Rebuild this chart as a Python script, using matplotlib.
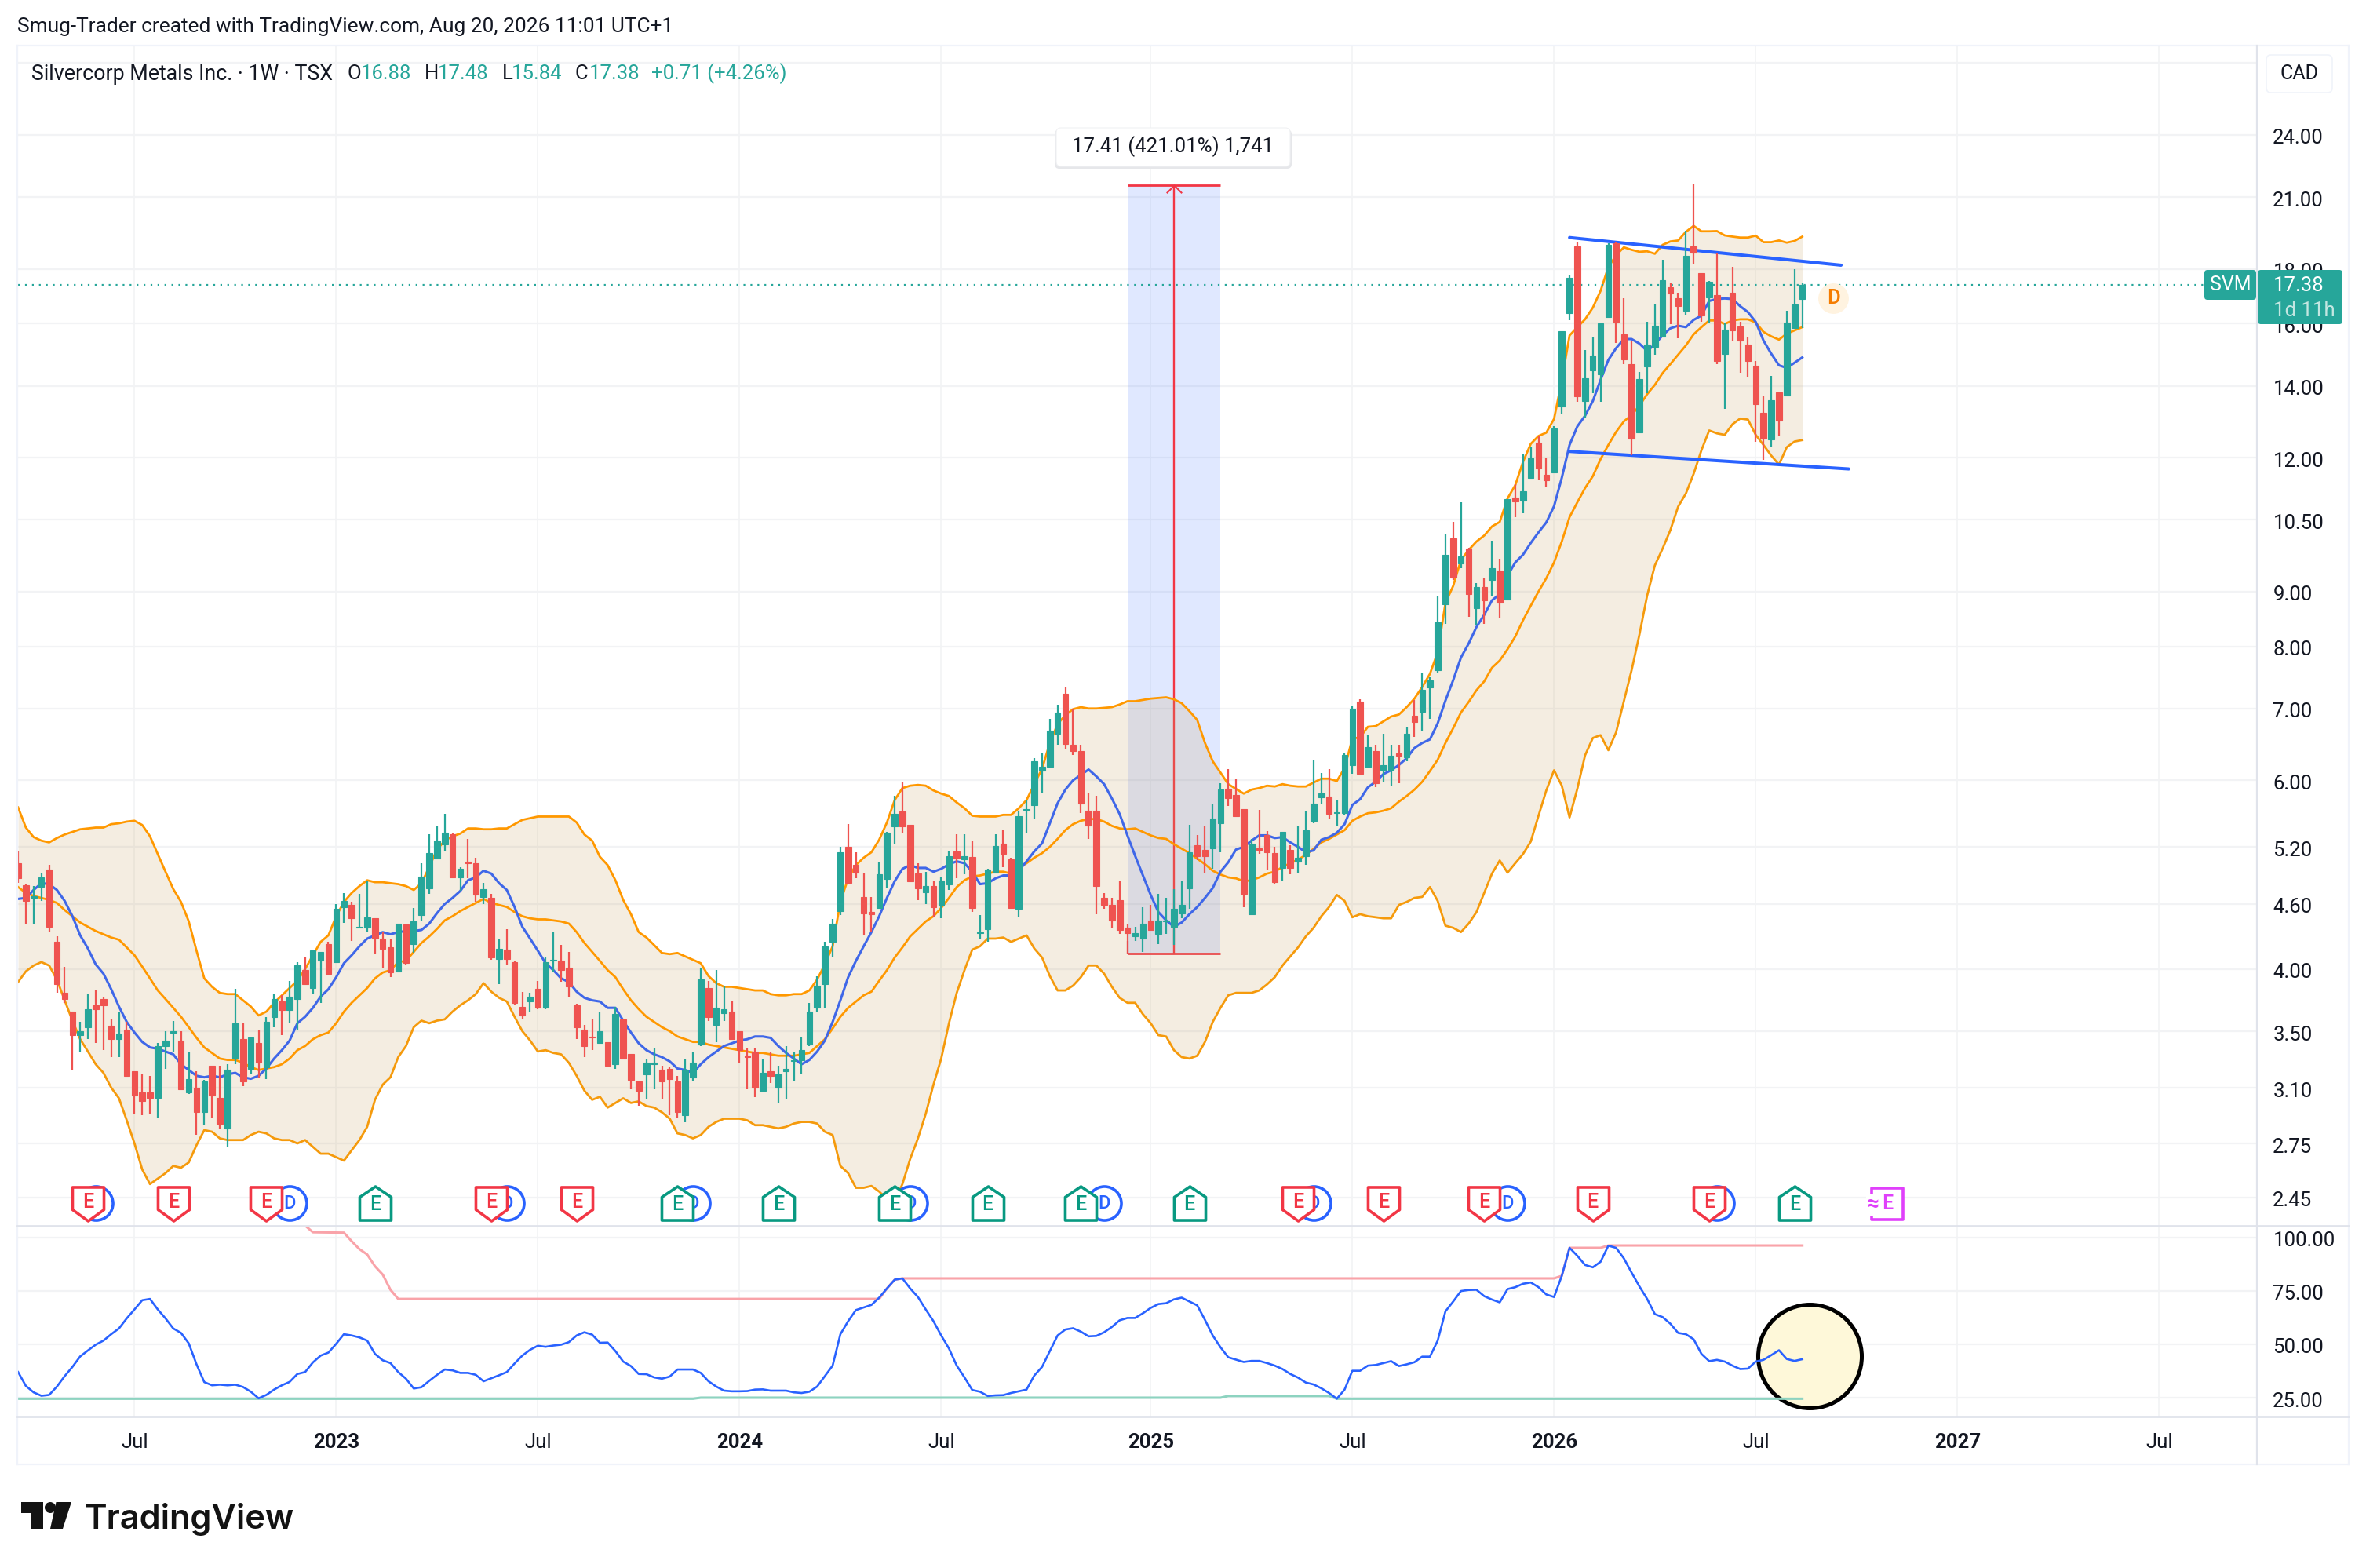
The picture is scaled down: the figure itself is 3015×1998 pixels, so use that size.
import matplotlib
matplotlib.use('Agg')
import matplotlib.pyplot as plt
import numpy as np
from matplotlib.lines import Line2D
from matplotlib.markers import MarkerStyle
from matplotlib.patches import Circle, Ellipse, FancyBboxPatch, Polygon, Rectangle
from matplotlib.path import Path
from matplotlib.transforms import Affine2D, ScaledTranslation, blended_transform_factory

plt.rcParams['font.family'] = ['Roboto', 'DejaVu Sans']

# weekly candles, one value per bar
opens = [5.02,4.79,4.66,4.77,4.95,4.24,3.80,3.65,3.47,3.53,
    3.70,3.75,3.54,3.44,3.51,3.21,3.07,3.07,3.03,3.39,
    3.49,3.43,3.07,3.10,2.94,3.25,3.03,2.84,3.30,3.44,
    3.23,3.41,3.24,3.61,3.73,3.66,3.75,3.99,3.84,4.07,
    4.22,4.06,4.57,4.59,4.37,4.37,4.46,4.27,4.19,3.98,
    4.40,4.22,4.49,4.76,5.07,5.23,5.34,4.87,5.04,5.02,
    4.67,4.66,4.09,4.17,4.06,3.69,3.73,3.83,3.68,4.07,
    4.07,4.01,3.70,3.51,3.46,3.41,3.42,3.26,3.59,3.33,
    3.14,3.19,3.26,3.22,3.23,3.14,2.92,3.17,3.40,3.84,
    3.55,3.64,3.65,3.50,3.32,3.35,3.08,3.21,3.10,3.21,
    3.28,3.29,3.40,3.68,3.87,4.24,4.53,5.20,5.00,4.67,
    4.52,4.56,4.85,5.43,5.61,5.45,4.91,4.72,4.78,4.58,
    4.80,5.15,5.06,5.09,4.32,4.36,4.92,5.24,5.06,4.55,
    5.63,5.69,6.12,6.18,6.63,7.23,6.48,6.39,5.62,5.62,
    4.66,4.59,4.64,4.37,4.29,4.27,4.44,4.31,4.43,4.38,
    4.51,4.76,5.22,5.17,5.18,5.47,5.89,5.81,5.64,4.50,
    5.18,5.33,5.13,4.97,5.17,5.04,5.10,5.50,5.78,5.79,
    5.59,5.59,6.20,7.11,6.18,6.39,6.13,6.13,6.36,6.30,
    6.89,6.95,7.32,7.60,8.76,10.09,9.56,9.87,8.68,9.09,
    9.22,9.41,8.84,11.01,10.94,11.49,12.39,11.57,11.62,13.39,
    16.36,18.88,13.55,14.47,14.35,16.23,19.02,15.63,14.66,12.67,
    14.59,15.22,15.55,17.29,16.91,16.45,18.88,17.83,16.93,17.00,
    15.00,17.09,15.89,15.31,14.61,13.22,12.48,13.81,13.71,15.84,16.88]
highs = [5.15,4.80,4.78,4.92,5.00,4.29,4.02,3.65,3.57,3.79,
    3.82,3.77,3.59,3.65,3.57,3.21,3.19,3.18,3.41,3.50,
    3.58,3.50,3.35,3.21,3.15,3.25,3.25,3.26,3.83,3.56,
    3.45,3.51,3.61,3.79,3.78,3.90,4.06,4.10,4.16,4.15,
    4.24,4.60,4.71,4.62,4.70,4.84,4.46,4.33,4.27,4.41,
    4.41,4.56,5.02,5.34,5.43,5.58,5.35,4.98,5.29,5.08,
    4.81,4.70,4.27,4.36,4.07,3.81,3.80,3.90,4.10,4.33,
    4.21,4.15,3.71,3.55,3.59,3.65,3.42,3.69,3.59,3.33,
    3.14,3.30,3.37,3.25,3.24,3.18,3.30,3.35,4.01,3.90,
    3.99,3.85,3.73,3.50,3.37,3.37,3.30,3.35,3.25,3.39,
    3.35,3.46,3.72,3.94,4.24,4.45,5.20,5.46,5.14,4.92,
    4.67,5.03,5.37,5.80,5.98,5.45,5.02,4.93,4.83,4.88,
    5.16,5.34,5.34,5.27,4.49,4.96,5.34,5.40,5.08,5.62,
    5.75,6.29,6.37,6.84,7.06,7.34,6.98,6.48,5.83,5.80,
    4.71,4.66,4.84,4.40,4.38,4.57,4.59,4.70,4.66,4.75,
    4.84,5.45,5.33,5.43,5.71,5.96,6.15,6.01,5.64,5.29,
    5.63,5.38,5.20,5.37,5.22,5.43,5.62,6.26,6.09,6.15,
    5.75,6.36,7.04,7.14,6.62,6.48,6.63,6.48,6.48,6.73,
    7.13,7.55,7.48,8.91,10.17,10.45,10.90,9.89,9.17,9.28,
    10.03,9.66,10.97,11.33,12.09,12.28,12.59,11.98,12.83,15.73,
    17.74,19.05,15.11,15.57,16.03,19.00,19.05,16.89,15.43,14.43,
    16.06,16.67,18.34,17.47,17.11,19.54,21.60,17.85,17.53,18.59,
    16.01,18.07,16.06,15.52,14.77,13.68,14.31,13.83,16.44,18.00,17.48]
lows = [4.81,4.41,4.40,4.63,4.33,3.80,3.72,3.22,3.35,3.44,
    3.41,3.36,3.31,3.31,3.18,2.93,2.92,2.93,2.90,3.23,
    3.35,3.09,3.06,2.80,2.86,2.90,2.84,2.73,3.26,3.11,
    3.19,3.17,3.16,3.53,3.47,3.56,3.51,3.87,3.79,3.72,
    3.95,4.06,4.42,4.25,4.37,4.33,4.13,4.01,3.93,3.97,
    4.04,4.14,4.43,4.70,5.07,5.16,4.87,4.73,4.86,4.62,
    4.60,4.08,3.87,4.04,3.70,3.59,3.65,3.67,3.67,3.97,
    3.89,3.77,3.44,3.31,3.36,3.41,3.25,3.23,3.30,3.09,
    2.98,3.02,3.09,3.02,2.92,2.90,2.88,3.14,3.39,3.58,
    3.42,3.58,3.44,3.27,3.09,3.04,3.07,3.13,3.00,3.02,
    3.14,3.19,3.39,3.65,3.68,4.10,4.49,4.81,4.86,4.30,
    4.33,4.56,4.76,5.23,5.35,4.82,4.64,4.60,4.48,4.46,
    4.74,4.86,4.90,4.52,4.27,4.24,4.91,4.98,4.55,4.47,
    5.36,5.52,5.83,6.17,6.48,6.41,6.33,5.59,5.29,4.50,
    4.55,4.37,4.31,4.25,4.25,4.15,4.34,4.22,4.31,4.21,
    4.46,4.55,5.05,4.92,4.96,5.14,5.68,5.55,4.57,4.50,
    5.12,4.95,4.80,4.84,4.90,4.92,5.00,5.47,5.71,5.53,
    5.44,5.56,6.08,6.08,6.17,5.91,5.97,5.92,5.96,6.25,
    6.59,6.66,6.85,7.55,8.39,9.22,9.46,8.53,8.37,8.39,
    8.90,8.51,8.83,10.56,10.64,11.48,11.45,11.27,11.62,13.17,
    16.12,13.53,13.08,13.79,13.53,16.23,15.36,14.66,12.07,12.67,
    13.78,14.97,15.52,15.99,15.50,16.31,18.19,16.06,16.04,14.66,
    13.32,15.41,14.39,14.27,12.42,11.94,12.26,12.57,13.71,15.84,15.84]
closes = [4.86,4.63,4.68,4.87,4.38,3.87,3.75,3.47,3.50,3.67,
    3.67,3.70,3.44,3.48,3.18,3.05,3.01,3.03,3.39,3.43,
    3.50,3.09,3.16,2.94,3.14,3.05,2.87,3.22,3.56,3.14,
    3.45,3.27,3.57,3.75,3.66,3.77,4.03,3.87,4.16,4.15,
    3.96,4.55,4.63,4.46,4.38,4.47,4.27,4.18,3.97,4.41,
    4.05,4.43,4.88,5.13,5.27,5.36,4.87,4.96,5.02,4.69,
    4.75,4.10,4.18,4.09,3.72,3.62,3.77,3.68,4.06,4.08,
    3.99,3.85,3.53,3.39,3.45,3.50,3.25,3.63,3.30,3.15,
    3.08,3.27,3.27,3.14,3.16,2.94,3.22,3.27,3.91,3.61,
    3.68,3.67,3.44,3.36,3.31,3.10,3.20,3.18,3.19,3.23,
    3.29,3.36,3.65,3.86,4.20,4.41,5.14,4.81,4.92,4.51,
    4.50,4.90,5.36,5.58,5.43,4.83,4.76,4.78,4.57,4.84,
    5.10,5.07,5.10,4.56,4.33,4.95,5.21,5.12,4.56,5.55,
    5.64,6.25,6.18,6.68,6.94,6.49,6.39,5.71,5.44,4.78,
    4.59,4.44,4.35,4.32,4.32,4.41,4.35,4.44,4.44,4.55,
    4.59,5.14,5.10,5.10,5.53,5.88,5.77,5.55,4.70,5.24,
    5.17,5.14,4.82,5.37,4.97,5.08,5.39,5.71,5.83,5.58,
    5.60,6.33,7.00,6.08,6.44,5.96,6.20,6.32,6.32,6.63,
    6.80,7.29,7.43,8.43,9.74,9.28,9.70,8.95,9.09,8.83,
    9.46,8.79,10.97,10.92,11.17,11.99,11.72,11.42,12.77,15.73,
    17.65,13.69,14.22,14.95,16.01,18.95,16.04,14.81,12.50,14.20,
    15.29,15.93,17.56,17.07,16.62,18.50,18.64,16.29,17.50,14.77,
    15.79,15.77,15.43,14.76,13.46,12.49,13.58,12.99,16.03,16.67,17.38]

# bollinger bands and the moving average
bb_upper = [5.66,5.42,5.31,5.27,5.25,5.30,5.34,5.37,5.40,5.41,
    5.42,5.42,5.46,5.47,5.49,5.50,5.45,5.32,5.12,4.93,
    4.75,4.62,4.43,4.16,3.92,3.85,3.80,3.79,3.79,3.74,
    3.69,3.62,3.65,3.72,3.78,3.84,3.90,4.00,4.12,4.24,
    4.30,4.48,4.62,4.71,4.78,4.84,4.82,4.82,4.81,4.80,
    4.78,4.74,4.81,4.98,5.17,5.27,5.32,5.35,5.41,5.41,
    5.40,5.40,5.41,5.41,5.46,5.51,5.53,5.55,5.55,5.55,
    5.55,5.55,5.48,5.34,5.27,5.09,5.00,4.84,4.64,4.50,
    4.33,4.28,4.21,4.14,4.13,4.14,4.11,4.08,4.05,3.94,
    3.88,3.85,3.85,3.84,3.83,3.82,3.82,3.79,3.78,3.78,
    3.79,3.79,3.82,3.91,4.04,4.20,4.62,4.86,5.00,5.08,
    5.14,5.28,5.48,5.75,5.90,5.93,5.94,5.93,5.87,5.83,
    5.80,5.72,5.65,5.56,5.55,5.55,5.55,5.57,5.57,5.65,
    5.75,5.95,6.15,6.50,6.77,6.90,6.99,7.02,7.00,7.00,
    7.01,7.02,7.06,7.11,7.11,7.13,7.15,7.16,7.17,7.14,
    7.08,6.96,6.83,6.50,6.25,6.10,5.95,5.89,5.83,5.88,
    5.90,5.93,5.92,5.95,5.93,5.92,5.92,5.97,6.02,6.02,
    5.99,6.16,6.56,6.58,6.73,6.74,6.81,6.88,6.91,7.02,
    7.15,7.33,7.54,7.90,8.78,9.11,9.63,9.84,10.02,10.15,
    10.35,10.45,10.99,11.31,11.89,12.36,12.57,12.66,13.04,14.16,
    15.60,15.88,16.15,16.56,17.17,18.07,18.53,18.85,18.75,18.67,
    18.69,18.59,18.95,19.09,19.13,19.49,19.74,19.51,19.51,19.52,
    19.34,19.29,19.25,19.25,19.33,19.06,19.06,19.13,19.04,19.11,19.29]
bb_basis = [4.77,4.71,4.68,4.66,4.64,4.61,4.54,4.48,4.42,4.38,
    4.34,4.31,4.28,4.26,4.19,4.12,4.02,3.92,3.82,3.75,
    3.68,3.61,3.53,3.45,3.38,3.34,3.30,3.29,3.29,3.27,
    3.24,3.22,3.23,3.24,3.26,3.30,3.36,3.39,3.44,3.47,
    3.49,3.56,3.65,3.72,3.78,3.84,3.92,3.97,3.99,4.06,
    4.07,4.15,4.23,4.29,4.36,4.44,4.48,4.53,4.57,4.61,
    4.65,4.61,4.59,4.57,4.52,4.48,4.46,4.45,4.45,4.44,
    4.43,4.41,4.33,4.23,4.15,4.07,3.99,3.93,3.83,3.74,
    3.67,3.61,3.57,3.53,3.50,3.46,3.44,3.42,3.42,3.40,
    3.39,3.38,3.37,3.36,3.35,3.34,3.34,3.33,3.32,3.32,
    3.32,3.33,3.34,3.39,3.44,3.52,3.61,3.68,3.73,3.78,
    3.81,3.90,3.99,4.10,4.19,4.29,4.36,4.43,4.48,4.56,
    4.66,4.77,4.84,4.88,4.89,4.91,4.93,4.93,4.91,4.97,
    5.02,5.08,5.13,5.20,5.29,5.39,5.46,5.50,5.52,5.52,
    5.49,5.44,5.41,5.40,5.41,5.37,5.33,5.30,5.29,5.23,
    5.18,5.13,5.07,5.01,4.94,4.90,4.87,4.86,4.83,4.84,
    4.87,4.91,4.93,4.98,5.02,5.06,5.11,5.18,5.25,5.29,
    5.34,5.39,5.50,5.55,5.59,5.60,5.62,5.65,5.73,5.80,
    5.88,5.98,6.12,6.27,6.50,6.71,6.94,7.10,7.28,7.42,
    7.64,7.76,7.95,8.17,8.46,8.73,9.00,9.26,9.58,10.02,
    10.56,10.90,11.24,11.53,11.96,12.33,12.68,12.97,13.15,13.41,
    13.75,14.03,14.39,14.67,14.97,15.27,15.64,15.88,16.11,16.11,
    15.99,16.11,16.15,16.15,16.04,15.72,15.57,15.46,15.66,15.77,15.88]
bb_lower = [3.89,3.98,4.03,4.06,4.03,3.91,3.74,3.58,3.44,3.35,
    3.26,3.20,3.10,3.03,2.89,2.75,2.60,2.52,2.55,2.58,
    2.62,2.61,2.64,2.74,2.83,2.82,2.78,2.77,2.77,2.77,
    2.80,2.82,2.81,2.78,2.77,2.77,2.75,2.77,2.73,2.69,
    2.69,2.67,2.65,2.71,2.77,2.85,3.02,3.12,3.17,3.31,
    3.39,3.53,3.58,3.56,3.58,3.59,3.65,3.70,3.74,3.79,
    3.88,3.81,3.76,3.73,3.61,3.50,3.43,3.35,3.36,3.34,
    3.33,3.27,3.18,3.08,3.02,3.04,2.97,3.00,3.03,3.00,
    3.01,2.98,2.97,2.94,2.90,2.81,2.80,2.78,2.80,2.85,
    2.88,2.90,2.90,2.90,2.89,2.86,2.86,2.85,2.84,2.85,
    2.87,2.88,2.88,2.87,2.82,2.80,2.62,2.58,2.50,2.50,
    2.51,2.48,2.44,2.43,2.52,2.66,2.78,2.93,3.12,3.30,
    3.56,3.80,3.99,4.17,4.20,4.27,4.27,4.28,4.24,4.27,
    4.30,4.18,4.10,3.94,3.82,3.82,3.86,3.93,4.03,4.03,
    3.96,3.85,3.76,3.72,3.72,3.63,3.56,3.47,3.46,3.36,
    3.31,3.30,3.32,3.42,3.57,3.68,3.78,3.80,3.80,3.80,
    3.82,3.87,3.93,4.03,4.11,4.19,4.29,4.37,4.48,4.57,
    4.69,4.63,4.47,4.50,4.48,4.47,4.46,4.46,4.59,4.62,
    4.66,4.67,4.77,4.63,4.39,4.37,4.33,4.41,4.52,4.71,
    4.91,5.05,4.92,5.02,5.12,5.26,5.56,5.87,6.13,5.93,
    5.54,5.89,6.33,6.57,6.61,6.40,6.65,7.11,7.60,8.20,
    8.92,9.52,9.87,10.27,10.80,11.11,11.59,12.19,12.72,12.64,
    12.60,12.89,13.05,13.02,12.60,12.33,12.05,11.82,12.27,12.42,12.46]
ma_line = [4.65,4.66,4.74,4.81,4.80,4.74,4.63,4.48,4.30,4.18,
    4.04,3.96,3.83,3.69,3.57,3.49,3.42,3.38,3.37,3.35,
    3.33,3.26,3.22,3.18,3.17,3.18,3.17,3.19,3.20,3.17,
    3.16,3.18,3.23,3.30,3.36,3.43,3.56,3.61,3.68,3.77,
    3.83,3.93,4.05,4.12,4.20,4.27,4.30,4.33,4.31,4.33,
    4.34,4.34,4.35,4.41,4.51,4.60,4.66,4.73,4.84,4.87,
    4.94,4.91,4.81,4.74,4.57,4.38,4.27,4.16,4.05,3.99,
    3.92,3.89,3.81,3.76,3.74,3.73,3.68,3.68,3.58,3.49,
    3.41,3.36,3.33,3.31,3.28,3.23,3.22,3.20,3.26,3.31,
    3.35,3.39,3.41,3.43,3.44,3.46,3.46,3.45,3.39,3.34,
    3.30,3.26,3.29,3.35,3.43,3.57,3.74,3.93,4.07,4.20,
    4.33,4.48,4.66,4.83,4.96,5.00,4.97,4.97,4.93,4.96,
    5.01,5.04,5.02,4.93,4.80,4.81,4.86,4.89,4.89,4.94,
    5.04,5.15,5.24,5.47,5.71,5.88,6.00,6.07,6.14,6.05,
    5.95,5.77,5.58,5.33,5.10,4.89,4.69,4.52,4.44,4.38,
    4.42,4.50,4.57,4.66,4.76,4.93,5.03,5.17,5.20,5.27,
    5.33,5.33,5.30,5.31,5.25,5.20,5.14,5.16,5.28,5.31,
    5.36,5.46,5.69,5.76,5.91,5.98,6.08,6.13,6.20,6.29,
    6.43,6.50,6.55,6.78,7.12,7.44,7.81,8.05,8.34,8.56,
    8.83,8.95,9.31,9.58,9.74,9.99,10.22,10.44,10.81,11.49,
    12.33,12.83,13.13,13.55,14.18,14.80,15.18,15.48,15.48,15.33,
    15.09,15.30,15.61,15.84,15.93,15.88,16.13,16.28,16.80,16.87,
    16.89,16.87,16.61,16.40,16.06,15.43,15.00,14.63,14.55,14.71,14.88]

# lower pane
osc_line = [37.0,30.5,27.5,25.9,26.3,30.2,35.1,39.4,44.3,47.1,
    49.8,51.7,54.7,57.4,62.1,66.3,70.6,71.2,66.3,62.1,
    57.4,55.3,50.4,40.6,32.3,30.8,31.1,30.8,31.1,30.0,
    27.8,24.7,26.3,28.8,30.8,32.4,36.1,37.0,41.5,44.7,
    46.1,50.2,54.7,54.1,53.2,51.7,45.5,42.5,41.2,37.0,
    33.9,29.3,29.9,32.9,35.7,38.2,37.8,36.6,36.6,35.7,
    32.7,34.1,35.5,37.0,41.0,44.7,47.4,49.3,48.8,49.4,
    49.8,51.0,54.1,55.6,54.5,50.7,50.8,46.8,41.9,39.8,
    36.1,36.0,34.5,33.9,34.9,38.2,38.2,38.2,36.6,32.7,
    30.2,28.3,28.0,28.0,28.1,28.8,28.9,28.3,28.3,28.3,
    27.5,27.2,27.8,30.2,35.1,40.0,54.7,60.8,66.0,67.2,
    68.4,71.8,76.1,80.2,80.8,76.1,72.1,66.3,60.8,54.1,
    48.0,40.0,34.5,28.6,27.8,25.8,26.1,26.2,27.2,28.0,
    28.8,35.4,39.4,46.8,54.1,56.9,57.5,55.9,53.7,53.9,
    55.6,58.1,61.2,62.3,62.3,64.5,67.0,68.8,69.2,71.0,
    71.8,70.0,68.2,61.4,54.1,48.6,43.9,42.8,41.7,42.2,
    42.2,41.2,40.0,38.4,36.1,34.4,32.1,31.2,29.4,27.2,
    24.5,28.8,37.6,37.6,40.0,40.3,41.2,42.1,39.8,40.6,
    41.6,44.2,44.2,51.7,65.4,70.0,74.9,75.4,75.5,72.5,
    70.9,69.6,75.8,76.7,78.3,78.9,76.7,73.3,72.1,82.0,
    95.1,91.4,87.1,86.0,88.6,96.1,95.1,90.2,83.5,77.1,
    71.2,64.1,62.7,59.6,55.3,54.7,52.3,45.5,42.1,42.7,
    41.9,40.0,38.4,38.6,41.9,42.7,44.9,47.2,43.1,42.2,43.0]
osc_high_bars = [37,38,42,43,44,45,46,47,48,49,111,112,113,114,198,199,200,204,205,230]
osc_high_vals = [105.5,102.4,102.2,98.2,94.5,92.0,86.5,82.6,75.5,71.2,71.2,76.1,80.2,80.8,80.8,82.0,95.1,95.1,96.2,96.2]
osc_low_bars = [0,87,88,155,156,169,170,230]
osc_low_vals = [24.5,24.5,25.0,25.0,25.8,25.8,24.5,24.5]

# drawn levels
trend_upper_bars = [200, 235]
trend_upper_prices = [19.25, 18.14]
trend_lower_bars = [200, 236]
trend_lower_prices = [12.16, 11.71]
measure_bars = [143, 155]
measure_prices = [4.135, 21.55]

# event flags, by bar
earn_miss = [9, 20, 32, 61, 72, 165, 176, 189, 203, 218]
earn_beat = [46, 85, 98, 113, 125, 137, 151, 229]
earn_next = [241]
dividends = [10, 35, 63, 87, 115, 140, 167, 192, 219]
split_bar = 234
split_price = 16.9
last_price = 17.38

price_ticks = [28, 24, 21, 18, 16, 14, 12, 10.5, 9, 8, 7, 6, 5.2, 4.6, 4, 3.5, 3.1, 2.75, 2.45]
price_labels = ['', '24.00', '21.00', '18.00', '16.00', '14.00', '12.00', '10.50', '9.00', '8.00',
                '7.00', '6.00', '5.20', '4.60', '4.00', '3.50', '3.10', '2.75', '2.45']
osc_ticks = [100, 75, 50, 25]
osc_labels = ['100.00', '75.00', '50.00', '25.00']
time_bars = [15, 41, 67, 93, 119, 146, 172, 198, 224, 250, 276]
time_labels = ['Jul', '2023', 'Jul', '2024', 'Jul', '2025', 'Jul', '2026', 'Jul', '2027', 'Jul']

UP = '#26A69A'
DOWN = '#EF5350'
ORANGE = '#FF9800'
BLUE = '#2962FF'
TXT = '#131722'
GRID = '#F2F3F5'
EDGE = '#E0E3EB'
W, H = 3015, 1998

fig = plt.figure(figsize=(W / 100, H / 100), dpi=100, facecolor='white')
px = Affine2D().scale(1, -1).translate(0, H)


def box(x0, y0, x1, y1):
    return [x0 / W, 1 - y1 / H, (x1 - x0) / W, (y1 - y0) / H]


ax = fig.add_axes(box(22, 58, 2875.5, 1561.7))
ax2 = fig.add_axes(box(22, 1561.7, 2875.5, 1805), sharex=ax)
bars = np.arange(len(closes))

for a in (ax, ax2):
    for s in a.spines.values():
        s.set_visible(False)
    a.set_axisbelow(True)
    a.grid(True, axis='y', color=GRID, lw=1.6)
    a.grid(True, axis='x', color='#F1F2F4', lw=1.1)
    a.yaxis.tick_right()
    a.tick_params(axis='y', length=0, pad=15, labelsize=18.5, labelcolor=TXT)

# price pane
ax.set_yscale('log')
ax.set_yticks(price_ticks)
ax.set_yticklabels(price_labels)
ax.minorticks_off()
ax.set_ylim(2.305, 29.08)
ax.set_xlim(-0.11, 288.56)
ax.set_xticks(time_bars)
ax.tick_params(axis='x', length=0, labelbottom=False)

ax.add_patch(Rectangle((measure_bars[0], measure_prices[0]), measure_bars[1] - measure_bars[0],
                       measure_prices[1] - measure_prices[0], color=BLUE, alpha=0.14, lw=0, zorder=1))
ax.hlines(measure_prices, measure_bars[0], measure_bars[1], color='#F23645', lw=2, zorder=1.2)
mid = sum(measure_bars) / 2
ax.vlines(mid, measure_prices[0], measure_prices[1], color='#F23645', lw=1.7, zorder=1.2)
ax.vlines(measure_bars[0], measure_prices[0], 4.25, color='#F23645', lw=1.7, zorder=1.2)
chevron = Path([(-1, -1), (0, 0), (1, -1)], [Path.MOVETO, Path.LINETO, Path.LINETO])
ax.plot([mid], [measure_prices[1]], marker=chevron, ms=14, mfc='none', mec='#F23645', mew=1.5, zorder=1.2)

ax.fill_between(bars, bb_upper, bb_lower, color='#C8A569', alpha=0.2, lw=0, zorder=1.5)
ax.plot(bars, bb_upper, color=ORANGE, lw=2.0, zorder=2)
ax.plot(bars, bb_basis, color=ORANGE, lw=2.0, zorder=2)
ax.plot(bars, bb_lower, color='#F59A0C', lw=2.0, zorder=2)
ax.plot(bars, ma_line, color='#3F67E8', lw=2.2, zorder=2.2)
ax.plot(trend_upper_bars, trend_upper_prices, color=BLUE, lw=2.9, solid_capstyle='round', zorder=2.3)
ax.plot(trend_lower_bars, trend_lower_prices, color=BLUE, lw=2.9, solid_capstyle='round', zorder=2.3)

ax.plot([0, 288.56], [last_price, last_price], color=UP, lw=1.6, ls=(0, (1, 3)), zorder=2.4)

colors = [UP if c >= o else DOWN for o, c in zip(opens, closes)]
ax.vlines(bars, lows, highs, colors=colors, lw=1.6, zorder=4)
ax.bar(bars, np.abs(np.array(closes) - np.array(opens)), bottom=np.minimum(opens, closes), width=0.76,
       color=colors, edgecolor=colors, lw=0.8, zorder=4.1)

# event flags sit at a fixed height in the pane
flag_tr = blended_transform_factory(ax.transData, px)
shield = MarkerStyle(Path([(-20, 21.5), (20, 21.5), (20, -7), (0, -21.5), (-20, -7), (-20, 21.5)], closed=True),
                     joinstyle='round')
house = MarkerStyle(Path([(-20, -21.5), (20, -21.5), (20, 8), (0, 21.5), (-20, 8), (-20, -21.5)], closed=True),
                    joinstyle='round')
tag = MarkerStyle(Path([(-20, -20), (20, -20), (20, 20), (-20, 20), (-20, -20)], closed=True), joinstyle='round')

ax.plot(dividends, [1533] * len(dividends), ls='', marker='o', ms=31, mfc='white', mec=BLUE, mew=2.6,
        transform=flag_tr, clip_on=False, zorder=5)
for b in dividends:
    ax.text(b, 1533, 'D', color=BLUE, fontsize=17, fontweight='medium', ha='center', va='center',
            transform=flag_tr, zorder=5.1)
ax.plot(earn_miss, [1533.5] * len(earn_miss), ls='', marker=shield, ms=31, mfc='white', mec='#F23645', mew=2.6,
        transform=flag_tr, clip_on=False, zorder=6)
ax.plot(earn_beat, [1533] * len(earn_beat), ls='', marker=house, ms=31, mfc='white', mec='#089981', mew=2.6,
        transform=flag_tr, clip_on=False, zorder=6)
ax.plot(earn_next, [1533.5] * len(earn_next), ls='', marker=tag, ms=29, mfc='white', mec='#E040FB', mew=2.6,
        transform=flag_tr, clip_on=False, zorder=6)
for b in earn_miss:
    ax.text(b, 1532, 'E', color='#F23645', fontsize=18, fontweight='medium', ha='center', va='center',
            transform=flag_tr, zorder=6.1)
for b in earn_beat:
    ax.text(b, 1535, 'E', color='#089981', fontsize=18, fontweight='medium', ha='center', va='center',
            transform=flag_tr, zorder=6.1)
for b in earn_next:
    ax.text(b, 1534, 'E', color='#E040FB', fontsize=18, fontweight='medium', ha='center', va='center',
            transform=flag_tr, zorder=6.1)
    ax.text(b - 1.9, 1535, '≈', color='#E040FB', fontsize=20, fontweight='bold', ha='center', va='center',
            transform=flag_tr, zorder=6.1, bbox=dict(fc='white', ec='none', pad=0.5))

ax.plot([split_bar], [split_price], marker='o', ms=28, mfc='#FFF3E0', mec='none', zorder=3)
ax.text(split_bar, split_price, 'D', color='#F57C00', fontsize=18.5, fontweight='medium',
        ha='center', va='center', zorder=3.1)

# lower pane
ax2.set_ylim(16.19, 105.5)
ax2.set_yticks(osc_ticks)
ax2.set_yticklabels(osc_labels)
ax2.add_patch(Ellipse((2306.5, 1728.5), 132, 132, fc='#FEF8D9', ec='black', lw=3.6, transform=px, zorder=1.5))
ax2.plot(osc_low_bars, osc_low_vals, color='#8DD3C0', lw=2.2, zorder=2)
ax2.plot(osc_high_bars, osc_high_vals, color='#F9A3A9', lw=2.2, zorder=2)
ax2.plot(bars, osc_line, color=BLUE, lw=1.9, zorder=3)
ax2.set_xticks(time_bars)
ax2.set_xticklabels(time_labels)
ax2.tick_params(axis='x', length=0, pad=15, labelsize=18.5, labelcolor=TXT)
for lab, name in zip(ax2.get_xticklabels(), time_labels):
    if name != 'Jul':
        lab.set_fontweight('bold')

# right axis labels sit a touch lower than the grid
nudge = ScaledTranslation(0, -1.5 / 72, fig.dpi_scale_trans)
for a in (ax, ax2):
    for lab in a.get_yticklabels():
        lab.set_transform(lab.get_transform() + nudge)

# frame lines
frame = [((22, 2993), (58, 58), '#F0F3FA', 1.6), ((22, 2993), (1866, 1866), '#F0F3FA', 1.6),
         ((22, 22), (58, 1866), '#F0F3FA', 1.6), ((2993, 2993), (58, 1866), '#F0F3FA', 1.6),
         ((22, 2993), (1561.7, 1561.7), EDGE, 2.0), ((22, 2993), (1805, 1805), EDGE, 2.0),
         ((2875.5, 2875.5), (58, 1866), EDGE, 1.6)]
for xs, ys, col, lw in frame:
    fig.add_artist(Line2D(xs, ys, color=col, lw=lw, transform=px))

# header text
fig.text(22, 34, 'Smug-Trader created with TradingView.com, Aug 20, 2026 11:01 UTC+1', color=TXT, fontsize=18.95,
         va='center', transform=px)
legend = [(40, 'Silvercorp Metals Inc. · 1W · TSX', TXT, 19.3), (442, 'O', TXT, 18.5), (459.5, '16.88', UP, 18.5),
          (541, 'H', TXT, 18.5), (558, '17.48', UP, 18.5), (640, 'L', TXT, 18.5), (652, '15.84', UP, 18.5),
          (733, 'C', TXT, 18.5), (750.6, '17.38', UP, 18.5), (830, '+0.71 (+4.26%)', UP, 18.5)]
for x, s, col, size in legend:
    fig.text(x, 94, s, color=col, fontsize=size, va='center', transform=px)

# currency box and price tag
fig.add_artist(FancyBboxPatch((2888, 70), 84, 48, boxstyle='round,pad=0,rounding_size=6', fc='white', ec='#F0F3FA',
                              lw=1.2, transform=px))
fig.text(2930, 94, 'CAD', color=TXT, fontsize=18, ha='center', va='center', transform=px)
fig.add_artist(FancyBboxPatch((2809, 344), 66, 38, boxstyle='round,pad=0,rounding_size=4', fc=UP, ec='none',
                              transform=px, zorder=8))
fig.add_artist(FancyBboxPatch((2877, 344), 108, 69, boxstyle='round,pad=0,rounding_size=4', fc=UP, ec='none',
                              transform=px, zorder=8))
fig.text(2842, 363, 'SVM', color='white', fontsize=18, ha='center', va='center', transform=px, zorder=9)
fig.text(2897, 364, '17.38', color='white', fontsize=18.5, va='center', transform=px, zorder=9)
fig.text(2897, 396, '1d 11h', color='#C2E6E1', fontsize=18.5, va='center', transform=px, zorder=9)

# measure label
fig.add_artist(FancyBboxPatch((1344, 165), 302, 50, boxstyle='round,pad=0,rounding_size=6', fc='#E6E7EA', ec='none',
                              transform=px, zorder=7))
fig.add_artist(FancyBboxPatch((1346, 163), 298, 49, boxstyle='round,pad=0,rounding_size=6', fc='white', ec='#F0F1F3',
                              lw=0.8, transform=px, zorder=7.1))
fig.text(1495, 187, '17.41 (421.01%) 1,741', color=TXT, fontsize=18.6, ha='center', va='center', transform=px, zorder=8)

# logo
fig.add_artist(Polygon([(27, 1914), (55, 1914), (55, 1948), (39, 1948), (39, 1928), (27, 1928)], fc='#131313',
                       ec='none', transform=px))
fig.add_artist(Circle((64, 1921), 7, fc='#131313', ec='none', transform=px))
fig.add_artist(Polygon([(71.5, 1914), (91, 1914), (80, 1948), (64, 1948)], fc='#131313', ec='none', transform=px))
fig.text(107, 1948, 'TradingView', color='#131313', fontsize=31.2, fontweight='semibold', family='Inter', va='baseline',
         transform=px)

fig.savefig('out.png', dpi=100, facecolor='white')
plt.close(fig)
